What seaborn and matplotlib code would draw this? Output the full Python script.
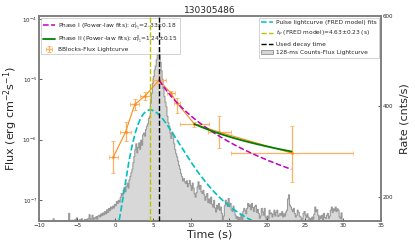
import numpy as np
import pandas as pd
import seaborn as sns
import matplotlib
matplotlib.use('Agg')
import matplotlib.pyplot as plt
from matplotlib.lines import Line2D
from matplotlib.patches import Patch

# 128-ms counts lightcurve (cnts/s), bins start at -10 s, 8 bins per row
bin_width = 0.128
t_first = -10.0
counts = [
    140, 138, 141, 139, 142, 140, 137, 141,
    143, 139, 141, 140, 138, 144, 152, 139,
    141, 144, 139, 146, 142, 140, 147, 143,
    145, 141, 148, 143, 146, 144, 164, 142,
    146, 149, 143, 147, 150, 145, 154, 148,
    147, 150, 145, 152, 148, 146, 150, 149,
    151, 148, 153, 161, 149, 152, 160, 150,
    154, 152, 157, 151, 158, 160, 156, 163,
    159, 165, 161, 168, 163, 172, 166, 175,
    170, 178, 174, 180, 176, 184, 181, 190,
    186, 193, 189, 200, 208, 204, 215, 222,
    212, 224, 231, 220, 238, 246, 254, 262,
    276, 290, 305, 318, 298, 310, 320, 306,
    326, 315, 338, 342, 335, 350, 357, 362,
    374, 379, 408, 430, 452, 467, 482, 490,
    504, 515, 532, 525, 498, 480, 461, 440,
    423, 410, 400, 379, 365, 357, 342, 330,
    344, 338, 318, 305, 296, 289, 280, 270,
    262, 252, 245, 236, 241, 234, 230, 236,
    223, 230, 237, 225, 215, 231, 220, 207,
    200, 210, 223, 234, 218, 226, 212, 208,
    215, 205, 193, 201, 208, 188, 196, 186,
    200, 184, 178, 193, 176, 167, 182, 174,
    186, 171, 178, 164, 149, 158, 181, 193,
    188, 179, 197, 183, 186, 172, 168, 180,
    170, 160, 153, 157, 149, 155, 151, 162,
    150, 168, 175, 171, 163, 175, 186, 179,
    183, 172, 186, 177, 168, 179, 182, 166,
    173, 164, 153, 158, 175, 167, 160, 175,
    156, 149, 158, 152, 171, 163, 165, 156,
    162, 171, 158, 166, 171, 157, 160, 164,
    160, 168, 156, 163, 158, 167, 171, 196,
    205, 182, 178, 172, 168, 175, 164, 156,
    160, 171, 166, 158, 156, 149, 152, 164,
    168, 160, 155, 163, 156, 149, 153, 150,
    156, 151, 162, 178, 168, 172, 160, 149,
    158, 153, 160, 149, 164, 155, 153, 160,
    164, 153, 158, 171, 178, 166, 174, 170,
    178, 168, 174, 171, 156, 153, 165, 146,
    140,
]

# Bayesian blocks flux lightcurve
bb_time = [-0.2, 1.4, 2.6, 3.95, 5.8, 7.35, 8.2, 10.45, 13.75, 23.25]
bb_time_err = [0.6, 0.7, 0.6, 0.65, 0.95, 0.5, 0.4, 1.9, 1.45, 8.05]
bb_flux = [5.2e-7, 1.35e-6, 3.85e-6, 5.3e-6, 9.7e-6, 5.9e-6, 4.0e-6, 1.82e-6, 1.33e-6, 6.0e-7]
bb_flux_hi = [9.6e-7, 1.94e-6, 4.66e-6, 6.2e-6, 1.17e-5, 6.5e-6, 4.85e-6, 2.0e-6, 2.5e-6, 1.66e-6]
bb_flux_lo = [2.8e-7, 9.5e-7, 3.1e-6, 4.5e-6, 8.3e-6, 5.25e-6, 2.73e-6, 1.62e-6, 7.2e-7, 2.0e-7]

# power-law fits (flux)
pl1_alpha, pl1_t0, pl1_start, pl1_stop, pl1_norm = 2.33, 0.53, 5.8, 23.2, 9.7e-6
pl2_alpha, pl2_t0, pl2_start, pl2_stop, pl2_norm = 1.24, 0.85, 10.45, 23.25, 1.82e-6

# FRED pulse fit (rate)
fred_bkg, fred_amp, fred_ts, fred_tau1, fred_tau2 = 100.0, 292.0, -1.25, 6.78, 5.1
t_peak = 4.63
t_decay = 5.75

sns.set_style('ticks')
plt.rcParams['font.family'] = ['DejaVu Sans']

fig = plt.figure(figsize=(4.15, 2.49), dpi=100)
ax = fig.add_axes([0.094, 0.1124, 0.824, 0.8233])
ax2 = ax.twinx()
ax.set_zorder(ax2.get_zorder() + 1)
ax.patch.set_visible(False)

# counts histogram on right axis
centers = t_first + bin_width * (np.arange(len(counts)) + 0.5)
hist_df = pd.DataFrame({'time': centers, 'rate': counts})
sns.histplot(data=hist_df, x='time', weights='rate', binwidth=bin_width,
             binrange=(t_first, t_first + bin_width * len(counts)), element='step',
             fill=True, color='grey', alpha=0.3, linewidth=0.8, edgecolor='#999999', ax=ax2)

# FRED model
tt = np.linspace(0.0, 20.0, 400)
xx = tt - fred_ts
peak_x = np.sqrt(fred_tau1 * fred_tau2)
fred = fred_bkg + fred_amp * np.exp(-fred_tau1 * (1 / xx - 1 / peak_x) - (xx - peak_x) / fred_tau2)
sns.lineplot(x=tt, y=fred, color='c', linestyle='--', linewidth=1.2, ax=ax2)

ax2.set_ylim(146, 600)
ax2.set_yticks([200, 400, 600])
ax2.set_ylabel('Rate (cnts/s)', fontsize=8)

# flux curves
bb_yerr = [np.array(bb_flux) - np.array(bb_flux_lo), np.array(bb_flux_hi) - np.array(bb_flux)]
eb = ax.errorbar(bb_time, bb_flux, xerr=bb_time_err, yerr=bb_yerr, fmt='none',
                 ecolor='#ffb060', elinewidth=0.9, capsize=1.5, capthick=0.6)
sns.lineplot(x=bb_time, y=bb_flux, color='#ff8c1a', linewidth=0.8, marker='o',
             markersize=2, markeredgewidth=0, sort=False, ax=ax)

t1 = np.linspace(pl1_start, pl1_stop, 200)
f1 = pl1_norm * ((t1 - pl1_t0) / (pl1_start - pl1_t0)) ** (-pl1_alpha)
sns.lineplot(x=t1, y=f1, color='m', linestyle='--', linewidth=1.1, ax=ax)
t2 = np.linspace(pl2_start, pl2_stop, 200)
f2 = pl2_norm * ((t2 - pl2_t0) / (pl2_start - pl2_t0)) ** (-pl2_alpha)
sns.lineplot(x=t2, y=f2, color='green', linestyle='-', linewidth=1.3, ax=ax)

ax.axvline(t_peak, color='y', linestyle='--', linewidth=1.0, zorder=6)
ax.axvline(t_decay, color='k', linestyle='--', linewidth=1.0, zorder=6)

ax.set_yscale('log')
ax.set_ylim(4.5e-8, 1.12e-4)
ax.set_xlim(-10, 35)
ax.set_xticks(range(-10, 40, 5))
ax.set_xlabel('Time (s)', fontsize=8, labelpad=1)
ax.set_ylabel(r'Flux (erg cm$^{-2}$s$^{-1}$)', fontsize=8, labelpad=2)
ax.set_title('130305486', fontsize=6.5, pad=2)

for a in (ax, ax2):
    a.tick_params(direction='in', labelsize=4, length=2, width=0.5, pad=1.5)
    a.tick_params(which='minor', length=0)
    for sp in a.spines.values():
        sp.set_color('#808080')
        sp.set_linewidth(1.2)

left_handles = [
    Line2D([], [], color='m', linestyle='--', linewidth=1.1),
    Line2D([], [], color='green', linewidth=1.3),
    eb,
]
left_labels = [
    r'Phase I (Power-law fits): $\alpha_{F_1}^{\rm I}$=2.33$\pm$0.18',
    r'Phase II (Power-law fits): $\alpha_{F_1}^{\rm II}$=1.24$\pm$0.15',
    'BBlocks-Flux Lightcurve',
]
leg1 = ax.legend(left_handles, left_labels, loc='upper left', fontsize=4.2,
                 frameon=True, fancybox=False, framealpha=0.8, edgecolor='#b0b0b0',
                 borderaxespad=0.3, labelspacing=0.35, handlelength=2.0,
                 handletextpad=0.6, borderpad=0.4)
leg1.get_frame().set_linewidth(0.5)
ax.add_artist(leg1)

right_handles = [
    Line2D([], [], color='c', linestyle='--', linewidth=1.1),
    Line2D([], [], color='y', linestyle='--', linewidth=1.0),
    Line2D([], [], color='k', linestyle='--', linewidth=1.0),
    Patch(facecolor='#d5d5d5', edgecolor='grey', linewidth=0.5),
]
right_labels = [
    'Pulse lightcurve (FRED model) fits',
    r'$t_p$ (FRED model)=4.63$\pm$0.23 (s)',
    'Used decay time',
    '128-ms Counts-Flux Lightcurve',
]
leg2 = ax.legend(right_handles, right_labels, loc='upper right', fontsize=4.2,
                 frameon=True, fancybox=False, framealpha=0.8, edgecolor='#b0b0b0',
                 borderaxespad=0.3, labelspacing=0.55, handlelength=2.0,
                 handletextpad=0.6, borderpad=0.4)
leg2.get_frame().set_linewidth(0.5)

fig.savefig('out.png', dpi=100)
